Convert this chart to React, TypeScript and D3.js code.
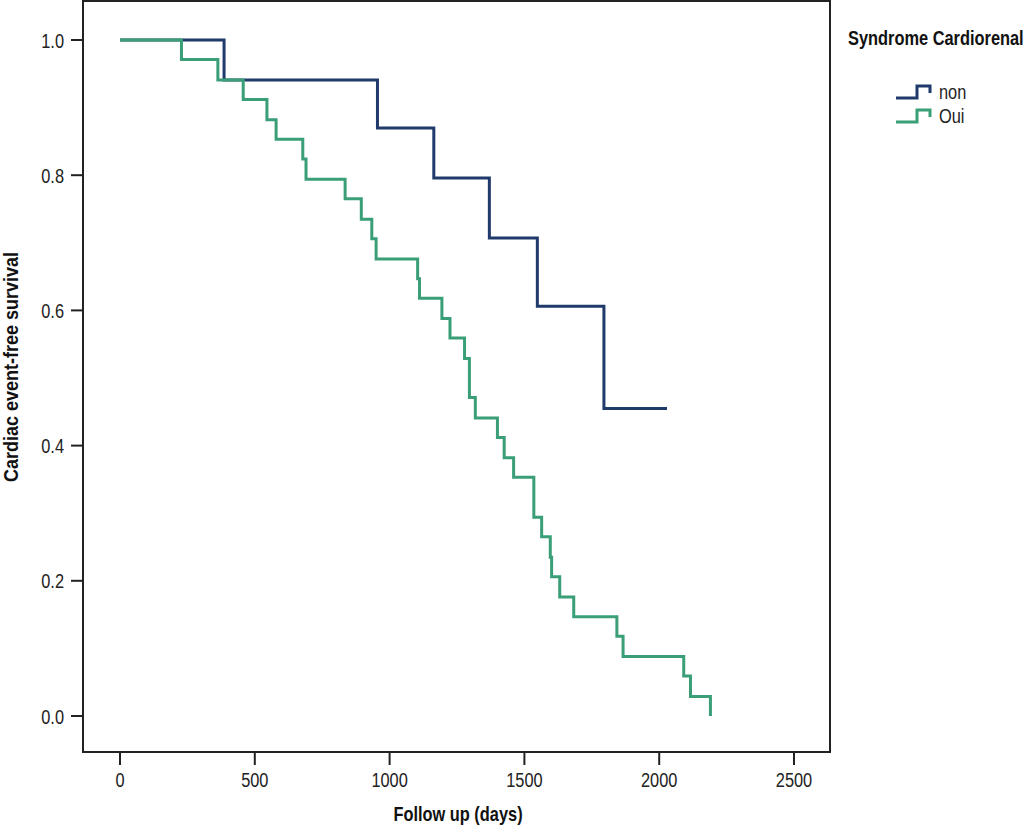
import { useEffect, useRef } from 'react'
import * as d3 from 'd3'

// Kaplan-Meier estimates, cardiac event-free survival by cardiorenal syndrome
const nonDays = [0, 386, 955, 1164, 1370, 1548, 1795, 2029]
const nonSurvival = [1.0, 0.941, 0.87, 0.796, 0.707, 0.606, 0.455, 0.455]

const ouiDays = [
  0, 228, 363, 457, 545, 579, 678, 690, 835, 895, 934, 950, 1104, 1111, 1194, 1224, 1278,
  1296, 1318, 1400, 1425, 1460, 1535, 1564, 1596, 1601, 1631, 1683, 1843, 1866, 2091, 2116, 2190,
]
const ouiSurvival = [
  1.0, 0.971, 0.941, 0.912, 0.882, 0.853, 0.824, 0.794, 0.765, 0.735, 0.706, 0.676, 0.647, 0.618,
  0.588, 0.559, 0.529, 0.471, 0.441, 0.412, 0.382, 0.353, 0.294, 0.265, 0.235, 0.206, 0.176, 0.147,
  0.118, 0.088, 0.059, 0.029, 0.0,
]

const xTicks = [0, 500, 1000, 1500, 2000, 2500]
const yTicks = [0, 0.2, 0.4, 0.6, 0.8, 1.0]
const groups = ['non', 'Oui']
const groupColors = ['#1f3a6b', '#3a9e77']

const FONT = "'Liberation Sans', Arial, sans-serif"

const App = () => {
  const svgRef = useRef<SVGSVGElement>(null)

  useEffect(() => {
    if (!svgRef.current) return
    const svg = d3.select(svgRef.current)
    svg.selectAll('*').remove()

    const frame = { left: 83, right: 830, top: 1, bottom: 752 }

    const x = d3.scaleLinear().domain([0, 2500]).range([120, 794])
    const y = d3.scaleLinear().domain([0, 1]).range([716, 40])

    // no narrow face installed, so the regular one is squeezed horizontally
    const label = (
      parent: d3.Selection<any, any, any, any>,
      px: number, py: number, text: string,
      opts: { anchor?: string; bold?: boolean; rotate?: number; size?: number; squeeze?: number } = {}
    ) =>
      parent.append('text')
        .attr('transform', `translate(${px},${py}) rotate(${opts.rotate ?? 0}) scale(${opts.squeeze ?? 0.82},1)`)
        .attr('text-anchor', opts.anchor ?? 'start')
        .attr('font-family', FONT)
        .attr('font-size', opts.size ?? 20)
        .attr('font-weight', opts.bold ? 'bold' : 'normal')
        .attr('fill', opts.bold ? '#111' : '#222')
        .text(text)

    // plot frame
    svg.append('path')
      .attr('d', `M${frame.left},${frame.top}H${frame.right}V${frame.bottom}H${frame.left}Z`)
      .attr('fill', 'none')
      .attr('stroke', '#222')
      .attr('stroke-width', 2)

    // x axis ticks
    const gx = svg.append('g')
    gx.selectAll('line').data(xTicks).enter().append('line')
      .attr('x1', d => x(d)).attr('x2', d => x(d))
      .attr('y1', frame.bottom).attr('y2', frame.bottom + 13)
      .attr('stroke', '#222').attr('stroke-width', 2)
    xTicks.forEach(t => label(gx, x(t), 787, d3.format('d')(t), { anchor: 'middle', size: 21, squeeze: 0.78 }))

    // y axis ticks
    const gy = svg.append('g')
    gy.selectAll('line').data(yTicks).enter().append('line')
      .attr('x1', frame.left - 12).attr('x2', frame.left)
      .attr('y1', d => y(d)).attr('y2', d => y(d))
      .attr('stroke', '#222').attr('stroke-width', 2)
    yTicks.forEach(t => label(gy, 64, y(t) + 7.5, d3.format('.1f')(t), { anchor: 'end', size: 21, squeeze: 0.78 }))

    // axis titles
    label(svg, 458, 821, 'Follow up (days)', { anchor: 'middle', bold: true })
    label(svg, 18, 367, 'Cardiac event-free survival', { anchor: 'middle', bold: true, rotate: -90, squeeze: 0.9 })

    // survival step curves
    const line = d3.line<[number, number]>()
      .x(d => x(d[0]))
      .y(d => y(d[1]))
      .curve(d3.curveStepAfter)

    const series: [number, number][][] = [
      nonDays.map((t, i) => [t, nonSurvival[i]]),
      ouiDays.map((t, i) => [t, ouiSurvival[i]]),
    ]

    series.forEach((pts, i) => {
      svg.append('path')
        .datum(pts)
        .attr('d', line)
        .attr('fill', 'none')
        .attr('stroke', groupColors[i])
        .attr('stroke-width', 3)
    })

    // legend
    const legend = svg.append('g')
    label(legend, 848, 45, 'Syndrome Cardiorenal', { bold: true })

    groups.forEach((g, i) => {
      const cy = 92 + i * 24
      legend.append('path')
        .attr('d', `M896,${cy + 6}H917V${cy - 6}H930V${cy + 1}`)
        .attr('fill', 'none')
        .attr('stroke', groupColors[i])
        .attr('stroke-width', 3)
      label(legend, 939, cy + 7, g)
    })
  }, [])

  return (
    <svg ref={svgRef} width={1024} height={825}
      style={{ position: 'absolute', left: 0, top: 0, background: '#fff' }} />
  )
}

export default App
